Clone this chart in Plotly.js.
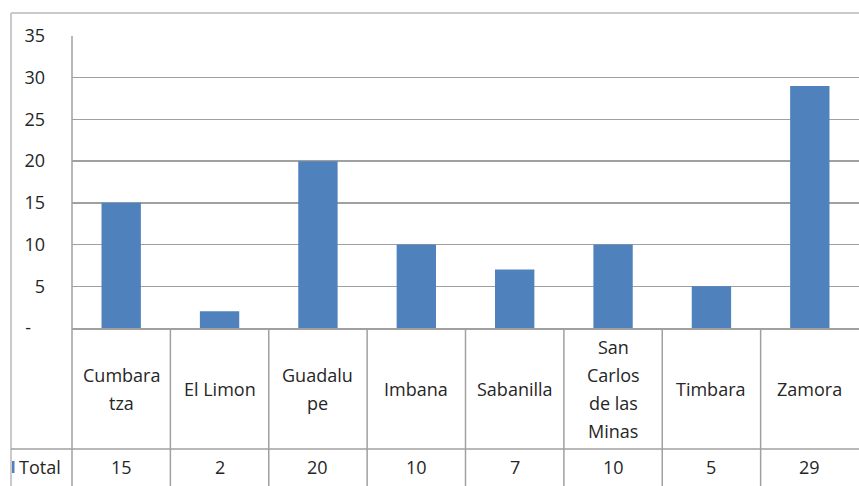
<!DOCTYPE html>
<html>
<head>
<meta charset="utf-8">
<script src="https://cdn.plot.ly/plotly-3.0.1.min.js"></script>
<style>html,body{margin:0;padding:0;background:#fff;}#chart{width:859px;height:486px;}</style>
</head>
<body>
<div id="chart"></div>
<script>
// Data
const categories = ["Cumbaratza", "El Limon", "Guadalupe", "Imbana", "Sabanilla", "San Carlos de las Minas", "Timbara", "Zamora"];
const categoryLabels = ["Cumbara<br>tza", "El Limon", "Guadalu<br>pe", "Imbana", "Sabanilla", "San<br>Carlos<br>de las<br>Minas", "Timbara", "Zamora"];
const totals = [15, 2, 20, 10, 7, 10, 5, 29];
const seriesName = "Total";
const yTickVals = [0, 5, 10, 15, 20, 25, 30, 35];
const yTickText = ["-\u00a0\u00a0\u00a0", "5", "10", "15", "20", "25", "30", "35"];

// Layout helpers (pixel -> paper)
const W = 859, H = 486, ML = 72, MR = 0, MT = 36, MB = 158;
const PW = W - ML - MR, PH = H - MT - MB;
const py = p => (H - MB - p) / PH;
const px = p => (p - ML) / PW;

const fontFam = "'Open Sans', 'Liberation Sans', sans-serif";
const txtColor = "#262626";
const lineColor = "#a0a0a0";
const fsz = 18;

const shapes = [];
const annotations = [];

// outer frame (left & top)
shapes.push({type:'line', xref:'paper', yref:'paper', x0:px(11), x1:px(11), y0:py(13), y1:py(495), line:{color:'#b8b8b8', width:1.5}});
shapes.push({type:'line', xref:'paper', yref:'paper', x0:px(11), x1:1.02, y0:py(13), y1:py(13), line:{color:'#b8b8b8', width:1.5}});
// left axis line extended through table
shapes.push({type:'line', xref:'paper', yref:'paper', x0:0, x1:0, y0:1, y1:py(495), line:{color:lineColor, width:1.5}});
// table row divider
shapes.push({type:'line', xref:'paper', yref:'paper', x0:px(11), x1:1.02, y0:py(449), y1:py(449), line:{color:lineColor, width:1.5}});
// table column dividers
for (let i = 0; i < categories.length - 1; i++) {
  shapes.push({type:'line', xref:'x', yref:'paper', x0:i+0.5, x1:i+0.5, y0:0, y1:py(495), line:{color:lineColor, width:1.5}});
}
// legend key
shapes.push({type:'rect', xref:'paper', yref:'paper', x0:px(12), x1:px(14.5), y0:py(473), y1:py(461), fillcolor:'#4F81BD', line:{width:0}});

// category labels (each line placed separately)
const lineGap = 28;
categoryLabels.forEach((lab, i) => {
  const lines = lab.split('<br>');
  const center = 389;
  lines.forEach((ln, k) => {
    const yPix = center + (k - (lines.length - 1) / 2) * lineGap;
    annotations.push({xref:'x', yref:'paper', x:i, y:py(yPix), text:ln, showarrow:false,
      xanchor:'center', yanchor:'middle', font:{family:fontFam, size:fsz, color:txtColor}});
  });
  annotations.push({xref:'x', yref:'paper', x:i, y:py(467), text:String(totals[i]), showarrow:false,
    xanchor:'center', yanchor:'middle', font:{family:fontFam, size:fsz, color:txtColor}});
});
annotations.push({xref:'paper', yref:'paper', x:px(17), y:py(467), text:seriesName, showarrow:false,
  xanchor:'left', yanchor:'middle', font:{family:fontFam, size:fsz, color:txtColor}});

const trace = {
  type:'bar', x:categories, y:totals, name:seriesName,
  marker:{color:'#4F81BD'}, hoverinfo:'x+y'
};

const layout = {
  width:W, height:H,
  margin:{l:ML, r:MR, t:MT, b:MB, pad:0},
  paper_bgcolor:'#fff', plot_bgcolor:'#fff',
  showlegend:false,
  bargap:0.6,
  xaxis:{type:'category', showticklabels:false, ticks:'', showgrid:false, zeroline:false,
    showline:true, linecolor:lineColor, linewidth:1.5, range:[-0.5, categories.length-0.5]},
  yaxis:{range:[0,35], tickvals:yTickVals, ticktext:yTickText, ticks:'', showgrid:true,
    gridcolor:lineColor, gridwidth:1.5, zeroline:false, showline:false,
    ticklabelstandoff:26, tickfont:{family:fontFam, size:fsz, color:txtColor}},
  shapes:shapes, annotations:annotations
};

Plotly.newPlot('chart', [trace], layout, {displayModeBar:false, staticPlot:true});
</script>
</body>
</html>
